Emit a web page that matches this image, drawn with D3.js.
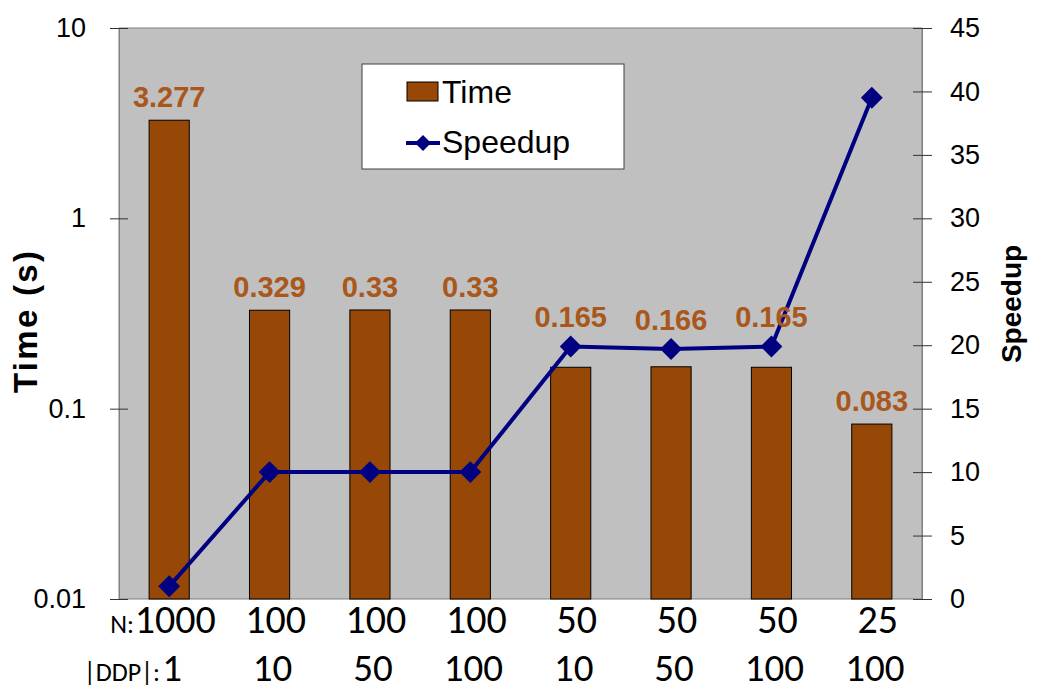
<!DOCTYPE html>
<html>
<head>
<meta charset="utf-8">
<script src="https://cdn.jsdelivr.net/npm/d3@7"></script>
<style>
  body { margin: 0; background: #ffffff; }
  text { font-family: "Liberation Sans", Arial, sans-serif; }
  .cat-label { font-family: Carlito, Lato, "Open Sans", sans-serif; }
</style>
</head>
<body>
<div id="chart"></div>
<script>
// data
const nValues = ["1000", "100", "100", "100", "50", "50", "50", "25"];
const ddpValues = ["1", "10", "50", "100", "10", "50", "100", "100"];
const timeValues = [3.277, 0.329, 0.33, 0.33, 0.165, 0.166, 0.165, 0.083];
const speedupValues = [1, 10, 10, 10, 19.9, 19.7, 19.9, 39.5];
const timeTicks = [0.01, 0.1, 1, 10];
const speedupTicks = [0, 5, 10, 15, 20, 25, 30, 35, 40, 45];

const width = 1043, height = 691;
const plot = {left: 119, top: 28, right: 922, bottom: 599};

const svg = d3.select("#chart")
  .append("svg")
    .attr("width", width)
    .attr("height", height);

const idx = d3.range(timeValues.length);

const x = d3.scaleBand()
  .domain(idx)
  .range([plot.left, plot.right])
  .paddingInner(0.6)
  .paddingOuter(0.3);
const cx = i => x(i) + x.bandwidth() / 2;

const yTime = d3.scaleLog()
  .domain([0.01, 10])
  .range([plot.bottom, plot.top]);

const ySpeed = d3.scaleLinear()
  .domain([0, 45])
  .range([plot.bottom, plot.top]);

// plot background
svg.append("rect")
  .attr("x", plot.left)
  .attr("y", plot.top)
  .attr("width", plot.right - plot.left)
  .attr("height", plot.bottom - plot.top)
  .attr("fill", "#c0c0c0")
  .attr("stroke", "#808080")
  .attr("stroke-width", 1);

// bars
svg.append("g")
  .selectAll("rect")
  .data(idx)
  .join("rect")
    .attr("x", i => x(i))
    .attr("y", i => yTime(timeValues[i]))
    .attr("width", x.bandwidth())
    .attr("height", i => plot.bottom - yTime(timeValues[i]))
    .attr("fill", "#974706")
    .attr("stroke", "#000000")
    .attr("stroke-width", 1);

// bar value labels - lifted above the speedup line when the line sits on the bar top
const labelY = i => {
  const top = yTime(timeValues[i]);
  const lineY = ySpeed(speedupValues[i]);
  if (lineY < top && lineY > top - 45) return lineY - 19;
  return top - 13;
};

// speedup line
svg.append("path")
  .datum(idx)
  .attr("fill", "none")
  .attr("stroke", "#000080")
  .attr("stroke-width", 4)
  .attr("d", d3.line()
    .x(cx)
    .y(i => ySpeed(speedupValues[i])));

const diamond = d3.symbol().type(d3.symbolSquare).size(240);
svg.append("g")
  .selectAll("path")
  .data(idx)
  .join("path")
    .attr("d", diamond)
    .attr("transform", i => `translate(${cx(i)},${ySpeed(speedupValues[i])}) rotate(45)`)
    .attr("fill", "#000080");

svg.append("g")
  .selectAll("text")
  .data(idx)
  .join("text")
    .attr("x", cx)
    .attr("y", labelY)
    .attr("text-anchor", "middle")
    .attr("font-size", "29px")
    .attr("font-weight", "bold")
    .attr("fill", "#a9571b")
    .text(i => timeValues[i]);

// left axis
const leftAxis = svg.append("g")
  .attr("transform", `translate(${plot.left},0)`)
  .call(d3.axisLeft(yTime)
    .tickValues(timeTicks)
    .tickFormat(d => d)
    .tickSizeInner(9)
    .tickSizeOuter(0)
    .tickPadding(24));
leftAxis.select(".domain").attr("stroke", "#808080");
leftAxis.selectAll(".tick line").attr("x2", 9).attr("x1", -9).attr("stroke", "#333");
leftAxis.selectAll(".tick text")
  .attr("font-size", "27px")
  .attr("fill", "#000");

// right axis
const rightAxis = svg.append("g")
  .attr("transform", `translate(${plot.right},0)`)
  .call(d3.axisRight(ySpeed)
    .tickValues(speedupTicks)
    .tickSizeInner(9)
    .tickSizeOuter(0)
    .tickPadding(19));
rightAxis.select(".domain").attr("stroke", "#808080");
rightAxis.selectAll(".tick line").attr("x1", -9).attr("x2", 10).attr("stroke", "#333");
rightAxis.selectAll(".tick text")
  .attr("font-size", "27px")
  .attr("fill", "#000");

// axis titles
svg.append("text")
  .attr("transform", "translate(37,322) rotate(-90)")
  .attr("text-anchor", "middle")
  .attr("font-size", "33px")
  .attr("font-weight", "bold")
  .attr("textLength", 142)
  .attr("lengthAdjust", "spacing")
  .text("Time (s)");

svg.append("text")
  .attr("transform", "translate(1021,304) rotate(-90)")
  .attr("text-anchor", "middle")
  .attr("font-size", "28px")
  .attr("font-weight", "bold")
  .text("Speedup");

// category labels (two rows)
svg.append("text")
  .attr("class", "cat-label")
  .attr("x", 134).attr("y", 633)
  .attr("text-anchor", "end")
  .attr("font-size", "26px")
  .text("N:");

svg.append("g")
  .selectAll("text")
  .data(idx)
  .join("text")
    .attr("class", "cat-label")
    .attr("x", i => cx(i) + 6)
    .attr("y", 633)
    .attr("text-anchor", "middle")
    .attr("font-size", "40px")
    .text(i => nValues[i]);

svg.append("text")
  .attr("class", "cat-label")
  .attr("x", 160).attr("y", 681)
  .attr("text-anchor", "end")
  .attr("font-size", "26px")
  .text("|DDP|:");

svg.append("g")
  .selectAll("text")
  .data(idx)
  .join("text")
    .attr("class", "cat-label")
    .attr("x", i => cx(i) + 3)
    .attr("y", 681)
    .attr("text-anchor", "middle")
    .attr("font-size", "39px")
    .text(i => ddpValues[i]);

// legend
const legend = svg.append("g");
legend.append("rect")
  .attr("x", 362).attr("y", 64)
  .attr("width", 262).attr("height", 105)
  .attr("fill", "#ffffff")
  .attr("stroke", "#404040")
  .attr("stroke-width", 1);
legend.append("rect")
  .attr("x", 407).attr("y", 82)
  .attr("width", 31).attr("height", 19)
  .attr("fill", "#974706")
  .attr("stroke", "#000");
legend.append("text")
  .attr("x", 442).attr("y", 103)
  .attr("font-size", "32px")
  .text("Time");
legend.append("line")
  .attr("x1", 406).attr("x2", 440)
  .attr("y1", 143).attr("y2", 143)
  .attr("stroke", "#000080")
  .attr("stroke-width", 4);
legend.append("path")
  .attr("d", d3.symbol().type(d3.symbolSquare).size(130))
  .attr("transform", "translate(423,143) rotate(45)")
  .attr("fill", "#000080");
legend.append("text")
  .attr("x", 442).attr("y", 153)
  .attr("font-size", "32px")
  .text("Speedup");
</script>
</body>
</html>
